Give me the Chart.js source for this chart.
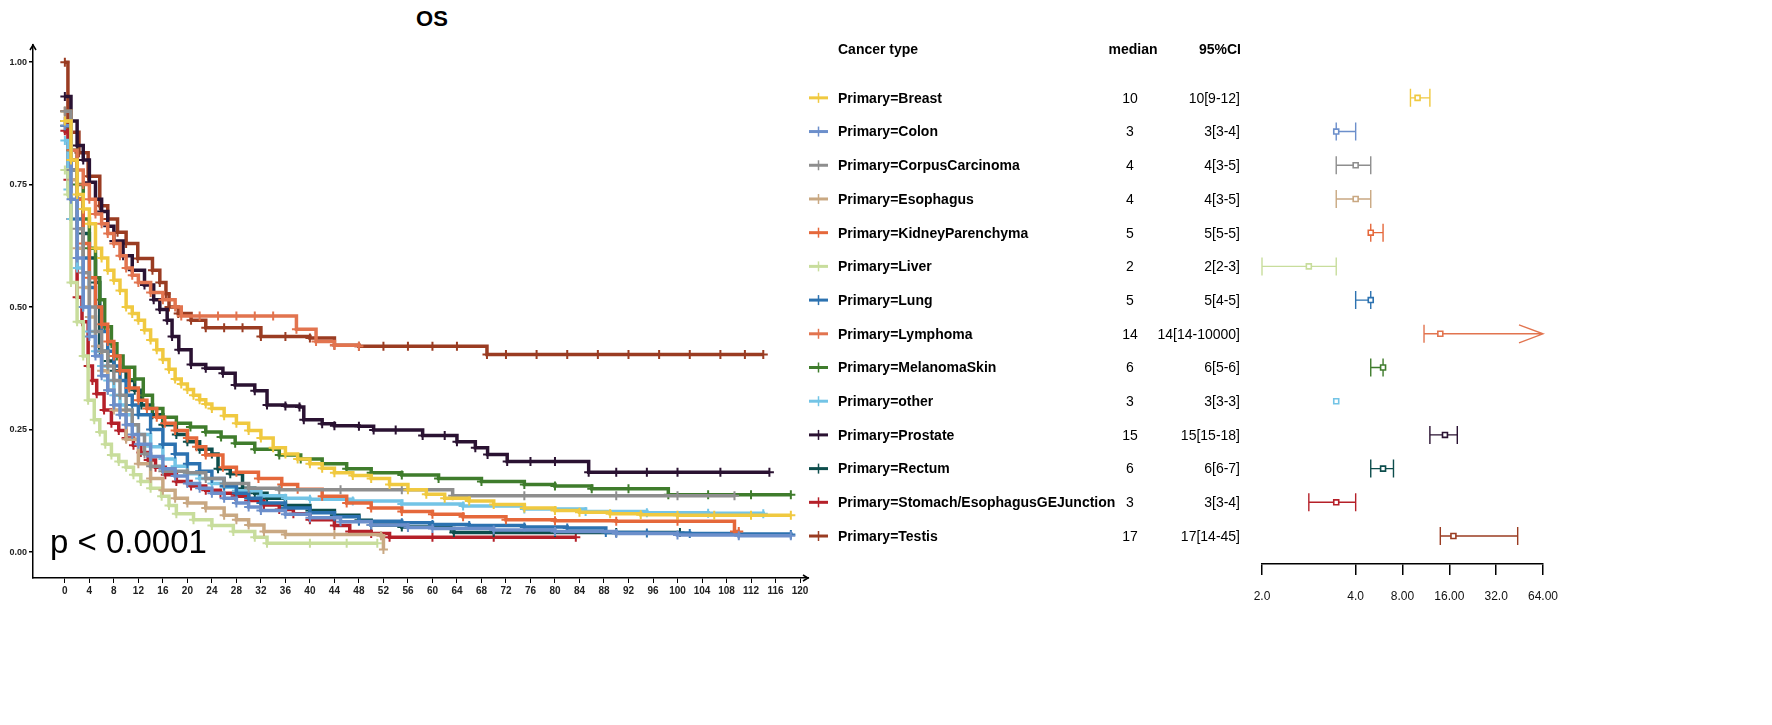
<!DOCTYPE html>
<html>
<head>
<meta charset="utf-8">
<script src="https://cdn.jsdelivr.net/npm/chart.js@4.4.1/dist/chart.umd.min.js"></script>
<style>
  html, body { margin: 0; padding: 0; background: #fff; }
  body { width: 1772px; height: 725px; position: relative; overflow: hidden; }
  #km { position: absolute; left: 0; top: 0; }
  #forest { position: absolute; left: 800px; top: 0; }
  #title { position: absolute; left: 392px; top: 6px; width: 80px; text-align: center;
           font: bold 22px "Liberation Sans", Arial, sans-serif; color: #000; }
</style>
</head>
<body>
<div id="title">OS</div>
<canvas id="km" width="815" height="725"></canvas>
<canvas id="forest" width="972" height="725"></canvas>
<script>
// groups, in legend order
const cancerTypes = [
  "Primary=Breast", "Primary=Colon", "Primary=CorpusCarcinoma", "Primary=Esophagus",
  "Primary=KidneyParenchyma", "Primary=Liver", "Primary=Lung", "Primary=Lymphoma",
  "Primary=MelanomaSkin", "Primary=other", "Primary=Prostate", "Primary=Rectum",
  "Primary=Stomach/EsophagusGEJunction", "Primary=Testis"
];
const typeColors = [
  "#F0C940", "#6C8FCB", "#8E8E8E", "#C9A882", "#E5683B", "#C8DD9C", "#2C72B0",
  "#E2744F", "#3F7C2C", "#73C4E6", "#2A1232", "#0D4D4C", "#B52029", "#9A3C22"
];

// Kaplan-Meier steps: [months, survival]
const breast = [[0,0.88],[1,0.80],[2,0.73],[3,0.70],[4,0.67],[5,0.62],[6,0.60],[7,0.575],[8,0.555],[9,0.534],[10,0.50],[11,0.487],[12,0.473],[13,0.453],[14,0.433],[15,0.413],[16,0.393],[17,0.373],[18,0.353],[19,0.343],[20,0.332],[21,0.32],[22,0.311],[23,0.302],[24,0.293],[26,0.278],[28,0.263],[30,0.248],[32,0.233],[34,0.213],[36,0.20],[38,0.19],[40,0.18],[42,0.171],[44,0.162],[47,0.156],[50,0.15],[53,0.138],[56,0.127],[59,0.118],[62,0.11],[66,0.104],[70,0.097],[75,0.09],[80,0.085],[84,0.081],[89,0.078],[94,0.076],[100,0.075],[106,0.075],[112,0.075],[118.5,0.075]];
const colon = [[0,0.87],[1,0.72],[2,0.60],[3,0.50],[4,0.44],[5,0.40],[6,0.36],[7,0.33],[8,0.30],[9,0.28],[10,0.26],[11,0.24],[12,0.22],[14,0.195],[16,0.17],[18,0.155],[20,0.14],[22,0.13],[24,0.12],[26,0.11],[28,0.10],[30,0.092],[32,0.085],[36,0.077],[40,0.07],[45,0.062],[50,0.055],[56,0.05],[60,0.048],[70,0.045],[80,0.042],[90,0.038],[100,0.035],[110,0.033],[118.5,0.033]];
const corpus = [[0,0.90],[1,0.78],[2,0.66],[3,0.57],[4,0.50],[5,0.45],[6,0.41],[7,0.38],[8,0.35],[9,0.32],[10,0.29],[11,0.26],[12,0.24],[13,0.20],[14,0.175],[16,0.165],[20,0.162],[23,0.15],[26,0.14],[30,0.13],[35,0.127],[45,0.127],[55,0.127],[63.3,0.115],[75,0.115],[90,0.115],[100,0.115],[109.3,0.115]];
const esophagus = [[0,0.88],[1,0.76],[2,0.62],[3,0.54],[4,0.48],[5,0.42],[6,0.37],[7,0.33],[8,0.29],[10,0.23],[12,0.18],[14,0.15],[16,0.126],[18,0.11],[20,0.10],[23,0.09],[26,0.075],[28,0.066],[30,0.055],[32.5,0.042],[36,0.036],[44,0.036],[51.6,0.033],[52,0.005]];
const kidney = [[0,0.90],[1,0.80],[2,0.72],[3,0.63],[4,0.56],[5,0.50],[6,0.465],[7,0.43],[8,0.40],[9,0.37],[10.5,0.335],[12,0.31],[13.4,0.293],[15,0.275],[16.3,0.263],[18,0.248],[20,0.233],[21.5,0.215],[23,0.198],[25.8,0.173],[28,0.163],[31.6,0.15],[35.4,0.138],[38,0.128],[42,0.114],[46,0.1],[50,0.09],[55,0.083],[60,0.077],[65,0.072],[72,0.066],[80,0.064],[90,0.063],[100,0.063],[109.3,0.042],[110,0.042]];
const liver = [[0,0.78],[0.5,0.73],[1,0.55],[2,0.47],[3,0.40],[3.8,0.31],[4.8,0.27],[5.7,0.245],[6.6,0.22],[7.6,0.198],[8.8,0.185],[10,0.173],[11.2,0.158],[12.4,0.144],[14,0.13],[15.8,0.114],[17,0.095],[18.2,0.078],[21,0.066],[24,0.054],[27.5,0.042],[31,0.03],[33,0.018],[40,0.018],[46,0.018],[51,0.018]];
const lung = [[0,0.88],[1,0.78],[2,0.68],[3,0.60],[4,0.54],[5,0.50],[6,0.45],[7,0.41],[8,0.38],[9,0.35],[10,0.32],[11,0.30],[12,0.28],[14,0.25],[16,0.22],[18,0.20],[20,0.18],[22,0.165],[24,0.15],[26,0.135],[28,0.12],[30,0.11],[32,0.10],[36,0.09],[40,0.08],[44,0.072],[48,0.063],[55,0.06],[60,0.056],[66,0.054],[75,0.051],[82,0.049],[88.3,0.04],[95,0.039],[102,0.038],[110,0.037],[118.5,0.036]];
const lymphoma = [[0,0.88],[1,0.82],[2,0.78],[3,0.75],[4,0.72],[5,0.69],[6,0.67],[7,0.65],[8,0.63],[9,0.605],[10,0.58],[11,0.565],[12,0.55],[14,0.53],[16,0.515],[18,0.50],[19,0.482],[22,0.482],[25,0.482],[28,0.482],[31,0.482],[34,0.482],[37.8,0.455],[41,0.43],[44,0.422],[48,0.42]];
const melanoma = [[0,0.90],[1,0.82],[2,0.75],[3,0.68],[4,0.62],[5,0.56],[5.7,0.515],[6.5,0.46],[7.6,0.425],[8.5,0.40],[9.5,0.377],[11.4,0.353],[12.8,0.32],[14.3,0.293],[16,0.275],[18.2,0.263],[20.5,0.255],[23,0.245],[25.5,0.235],[27.8,0.222],[31,0.21],[35,0.198],[38.5,0.19],[42,0.18],[46,0.17],[50,0.162],[55,0.157],[61,0.15],[68,0.144],[75,0.138],[80,0.135],[86,0.129],[92,0.129],[98.5,0.117],[105,0.117],[112,0.117],[118.5,0.117]];
const other = [[0,0.84],[0.5,0.74],[1,0.68],[2,0.58],[3,0.50],[4,0.45],[5,0.41],[6,0.38],[7,0.35],[8,0.32],[9,0.30],[10,0.28],[11,0.26],[12,0.24],[14,0.215],[16,0.19],[18,0.175],[20,0.16],[22,0.15],[24,0.14],[26,0.132],[28,0.125],[32,0.115],[36,0.11],[40,0.108],[47,0.104],[55,0.098],[65,0.094],[75,0.088],[85,0.083],[95,0.08],[105,0.079],[114,0.078]];
const prostate = [[0,0.93],[1,0.88],[2,0.83],[3,0.80],[4,0.755],[5,0.72],[6,0.695],[7,0.665],[8,0.635],[9.5,0.605],[11,0.575],[13,0.545],[14.5,0.515],[15.5,0.495],[16.7,0.473],[17.5,0.44],[18.6,0.413],[20.6,0.383],[23,0.375],[25.8,0.365],[27.8,0.341],[31,0.329],[33,0.30],[36,0.298],[38.3,0.296],[39,0.27],[42,0.262],[44,0.258],[48,0.257],[50.4,0.249],[54,0.249],[58.4,0.238],[62,0.238],[64,0.225],[67,0.213],[69,0.199],[72.2,0.185],[76,0.185],[80,0.185],[85.5,0.163],[90,0.163],[95,0.163],[100,0.163],[107,0.163],[115,0.163]];
const rectum = [[0,0.87],[1,0.80],[2,0.72],[3,0.65],[4,0.60],[5,0.55],[5.7,0.41],[7,0.39],[8,0.37],[10,0.35],[11.4,0.33],[12.5,0.30],[14.3,0.28],[16,0.26],[18.2,0.24],[20,0.225],[22,0.21],[24,0.20],[25,0.17],[27,0.16],[29,0.13],[31,0.12],[33,0.11],[36,0.095],[40,0.085],[44,0.075],[48,0.065],[50,0.055],[55,0.051],[63,0.048],[63.5,0.04],[70,0.04],[80,0.04],[90,0.04],[100.4,0.04]];
const stomach = [[0,0.86],[0.5,0.76],[1,0.68],[2,0.52],[2.8,0.47],[3.8,0.38],[4.5,0.35],[5.2,0.323],[6.4,0.29],[7.6,0.263],[8.8,0.248],[10,0.233],[11.2,0.218],[12.4,0.203],[13.6,0.188],[14.8,0.173],[16.4,0.158],[18.2,0.144],[20.6,0.135],[23,0.126],[25.4,0.12],[27.8,0.114],[30,0.105],[32.5,0.096],[35,0.087],[37.3,0.078],[40,0.066],[44,0.054],[46.5,0.042],[50,0.038],[53,0.03],[60,0.03],[70,0.03],[83.4,0.03]];
const testis = [[0,1.0],[0.5,0.857],[2.3,0.815],[3.8,0.767],[5.7,0.707],[7,0.68],[8.6,0.653],[10,0.63],[11.9,0.599],[14.3,0.575],[15.5,0.55],[16.5,0.527],[17,0.50],[18.5,0.487],[20.6,0.473],[23,0.458],[26,0.458],[29,0.458],[32,0.44],[36,0.44],[40,0.437],[44,0.422],[48,0.42],[52,0.42],[56,0.42],[60,0.42],[64,0.42],[68.9,0.403],[72,0.403],[77,0.403],[82,0.403],[87,0.403],[92,0.403],[97,0.403],[102,0.403],[107,0.403],[111,0.403],[114,0.403]];
const kmSeries = [breast, colon, corpus, esophagus, kidney, liver, lung, lymphoma, melanoma, other, prostate, rectum, stomach, testis];

const kmTimeTicks = [0,4,8,12,16,20,24,28,32,36,40,44,48,52,56,60,64,68,72,76,80,84,88,92,96,100,104,108,112,116,120];
const kmSurvTicks = [0, 0.25, 0.5, 0.75, 1];

// table + forest plot (median months, drawn CI ends)
const medianLabels = ["10","3","4","4","5","2","5","14","6","3","15","6","3","17"];
const ciLabels = ["10[9-12]","3[3-4]","4[3-5]","4[3-5]","5[5-5]","2[2-3]","5[4-5]","14[14-10000]","6[5-6]","3[3-3]","15[15-18]","6[6-7]","3[3-4]","17[14-45]"];
const forestMedian = [10, 3, 4, 4, 5, 2, 5, 14, 6, 3, 15, 6, 3, 17];
const forestLower = [9, 3, 3, 3, 5, 1, 4, 11, 5, 3, 12, 5, 2, 14];
const forestUpper = [12, 4, 5, 5, 6, 3, 5, 10000, 6, 3, 18, 7, 4, 44];
const forestTickValues = [1, 4, 8, 16, 32, 64];
const forestTickLabels = ["2.0", "4.0", "8.00", "16.00", "32.0", "64.00"];

const sans = '"Liberation Sans", Arial, sans-serif';

// axis arrows + p value on the KM panel
const kmExtras = {
  id: "kmExtras",
  afterDraw(chart) {
    const { ctx, chartArea: a } = chart;
    ctx.save();
    ctx.strokeStyle = "#000";
    ctx.lineWidth = 1.5;
    ctx.beginPath();
    ctx.moveTo(a.left - 3, a.top + 5); ctx.lineTo(a.left, a.top); ctx.lineTo(a.left + 3, a.top + 5);
    ctx.moveTo(a.right - 5, a.bottom - 3); ctx.lineTo(a.right, a.bottom); ctx.lineTo(a.right - 5, a.bottom + 3);
    ctx.stroke();
    ctx.fillStyle = "#000";
    ctx.font = "33px " + sans;
    ctx.textBaseline = "alphabetic";
    ctx.fillText("p < 0.0001", a.left + 17, a.bottom - 25);
    ctx.restore();
  }
};

new Chart(document.getElementById("km"), {
  type: "line",
  data: {
    datasets: cancerTypes.map((name, i) => ({
      label: name,
      data: kmSeries[i].map(([t, s]) => ({ x: t, y: s })),
      borderColor: typeColors[i],
      backgroundColor: typeColors[i],
      borderWidth: 3.5,
      stepped: true,
      fill: false,
      pointStyle: "cross",
      pointRadius: 4.5,
      pointBorderWidth: 2,
      pointBorderColor: typeColors[i],
      pointHoverRadius: 0
    }))
  },
  options: {
    responsive: false,
    animation: false,
    layout: { padding: { top: 45, right: 7, left: 0, bottom: 0 } },
    plugins: { legend: { display: false }, tooltip: { enabled: false } },
    scales: {
      x: {
        type: "linear", min: -5.2, max: 121.3,
        afterBuildTicks: s => { s.ticks = kmTimeTicks.map(v => ({ value: v })); },
        afterFit: s => { s.height = 147; },
        ticks: { autoSkip: false, maxRotation: 0, padding: 2, color: "#222",
                 font: { family: sans, size: 10, weight: "bold" } },
        grid: { drawOnChartArea: false, tickLength: 5, color: "#000", lineWidth: 1 },
        border: { color: "#000", width: 1.5 }
      },
      y: {
        min: -0.053, max: 1.035,
        afterBuildTicks: s => { s.ticks = kmSurvTicks.map(v => ({ value: v })); },
        afterFit: s => { s.width = 33; },
        ticks: { padding: 2, color: "#222", callback: v => v.toFixed(2),
                 font: { family: sans, size: 9, weight: "bold" } },
        grid: { drawOnChartArea: false, tickLength: 4, color: "#000", lineWidth: 1.5 },
        border: { color: "#000", width: 1.5 }
      }
    }
  },
  plugins: [kmExtras]
});

// CI whiskers behind the boxes
const forestWhiskers = {
  id: "forestWhiskers",
  beforeDatasetsDraw(chart) {
    const { ctx, scales: { x, y } } = chart;
    ctx.save();
    ctx.lineWidth = 1.4;
    cancerTypes.forEach((name, i) => {
      const lo = forestLower[i], hi = forestUpper[i];
      if (lo === hi) return;
      const py = y.getPixelForValue(i);
      const x1 = x.getPixelForValue(lo);
      const x2 = x.getPixelForValue(Math.min(hi, x.max));
      ctx.strokeStyle = typeColors[i];
      ctx.beginPath();
      ctx.moveTo(x1, py); ctx.lineTo(x2, py);
      ctx.moveTo(x1, py - 9); ctx.lineTo(x1, py + 9);
      if (hi > x.max) {
        ctx.moveTo(x2 - 24, py - 9); ctx.lineTo(x2, py); ctx.lineTo(x2 - 24, py + 9);
      } else {
        ctx.moveTo(x2, py - 9); ctx.lineTo(x2, py + 9);
      }
      ctx.stroke();
    });
    ctx.restore();
  }
};

// legend + median / 95%CI columns, aligned on the forest rows
const forestTable = {
  id: "forestTable",
  afterDraw(chart) {
    const { ctx, scales: { y } } = chart;
    ctx.save();
    ctx.fillStyle = "#000";
    ctx.textBaseline = "middle";
    ctx.font = "bold 14px " + sans;
    ctx.textAlign = "left";
    ctx.fillText("Cancer type", 38, 50);
    ctx.textAlign = "center";
    ctx.fillText("median", 333, 50);
    ctx.textAlign = "right";
    ctx.fillText("95%CI", 441, 50);
    cancerTypes.forEach((name, i) => {
      const py = y.getPixelForValue(i);
      ctx.strokeStyle = typeColors[i];
      ctx.lineWidth = 3;
      ctx.beginPath(); ctx.moveTo(9, py); ctx.lineTo(28, py); ctx.stroke();
      ctx.lineWidth = 1.5;
      ctx.beginPath(); ctx.moveTo(18.5, py - 5); ctx.lineTo(18.5, py + 5); ctx.stroke();
      ctx.font = "bold 14px " + sans;
      ctx.textAlign = "left";
      ctx.fillText(name, 38, py + 1);
      ctx.font = "14px " + sans;
      ctx.textAlign = "center";
      ctx.fillText(medianLabels[i], 330, py + 1);
      ctx.textAlign = "right";
      ctx.fillText(ciLabels[i], 440, py + 1);
    });
    ctx.restore();
  }
};

new Chart(document.getElementById("forest"), {
  type: "scatter",
  data: {
    datasets: [{
      label: "median",
      data: cancerTypes.map((name, i) => ({ x: forestMedian[i], y: i })),
      pointStyle: "rect",
      pointRadius: 3.5,
      pointBorderWidth: 1.6,
      pointBorderColor: typeColors,
      pointBackgroundColor: "#fff",
      pointHoverRadius: 3.5
    }]
  },
  options: {
    responsive: false,
    animation: false,
    layout: { padding: { left: 462, right: 229, top: 81, bottom: 0 } },
    plugins: { legend: { display: false }, tooltip: { enabled: false } },
    scales: {
      x: {
        type: "logarithmic", min: 1, max: 64,
        afterBuildTicks: s => { s.ticks = forestTickValues.map(v => ({ value: v })); },
        afterFit: s => { s.height = 161; },
        ticks: { autoSkip: false, maxRotation: 0, padding: 14, color: "#111",
                 callback: (v, i) => forestTickLabels[i],
                 font: { family: sans, size: 12 } },
        grid: { drawOnChartArea: false, tickLength: 11, color: "#000", lineWidth: 1.5 },
        border: { color: "#000", width: 1.5 }
      },
      y: { display: false, min: -0.5, max: 13.83, reverse: true }
    }
  },
  plugins: [forestWhiskers, forestTable]
});
</script>
</body>
</html>
